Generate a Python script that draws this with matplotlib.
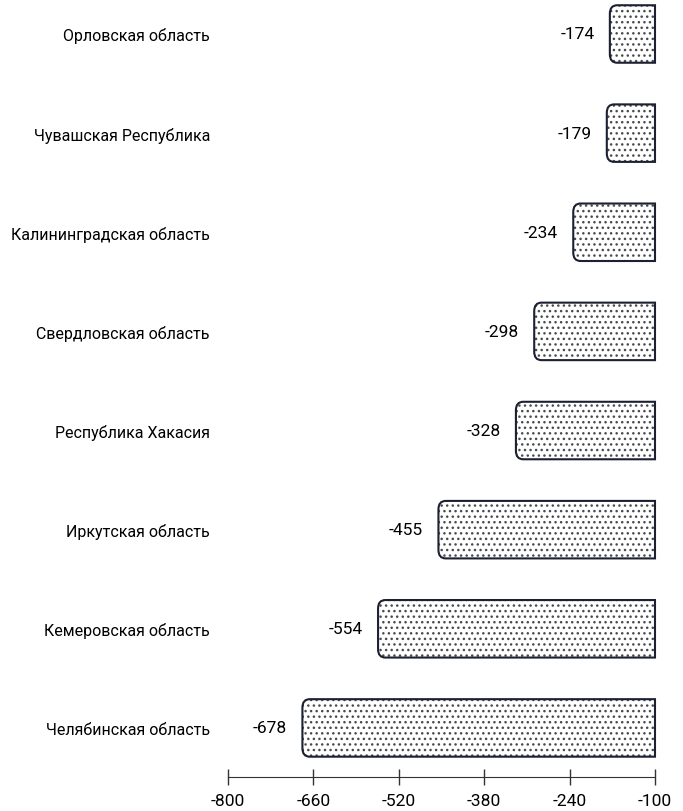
import matplotlib.pyplot as plt
from matplotlib.path import Path
from matplotlib.patches import PathPatch

regions = ["Челябинская область", "Кемеровская область", "Иркутская область",
           "Республика Хакасия", "Свердловская область", "Калининградская область",
           "Чувашская Республика", "Орловская область"]
values = [-678, -554, -455, -328, -298, -234, -179, -174]
xticks = [-800, -660, -520, -380, -240, -100]

plt.rcParams['font.family'] = ['Roboto', 'DejaVu Sans']

fig = plt.figure(figsize=(6.83, 8.12), dpi=100)
ax = fig.add_axes([228/683, 1-778/812, 427/683, 778/812])

base = -100
h = 0.58
rx, ry = 12, 0.085
edge = '#1c2030'

bars = ax.barh(range(len(values)), [v - base for v in values], left=base,
               height=h, color='none', edgecolor='none')
for b, v in zip(bars, values):
    x0 = b.get_x()
    x1 = x0 + b.get_width()
    xl, xr = min(x0, x1), max(x0, x1)
    yb = b.get_y()
    yt = yb + b.get_height()
    verts = [(xr, yb), (xl + rx, yb), (xl, yb), (xl, yb + ry), (xl, yt - ry),
             (xl, yt), (xl + rx, yt), (xr, yt), (xr, yb)]
    codes = [Path.MOVETO, Path.LINETO, Path.CURVE3, Path.CURVE3, Path.LINETO,
             Path.CURVE3, Path.CURVE3, Path.LINETO, Path.CLOSEPOLY]
    path = Path(verts, codes)
    # dots first (grey), then the dark outline on top
    ax.add_patch(PathPatch(path, facecolor='white', edgecolor='#4a4a4a',
                           linewidth=0, hatch='...'))
    ax.add_patch(PathPatch(path, facecolor='none', edgecolor=edge,
                           linewidth=1.5, clip_on=False))
    ax.annotate(str(v), (xl, yb + b.get_height()/2), xytext=(-11, 0),
                textcoords='offset points', ha='right', va='center', fontsize=12.5)

ax.set_xlim(-800, -100)
ax.set_ylim(-0.495, len(values) - 1 + 0.353)
ax.set_yticks(range(len(values)))
ax.set_yticklabels(regions, fontsize=11.5)
ax.tick_params(axis='y', length=0, pad=13)
ax.set_xticks(xticks)
ax.set_xticklabels([str(t) for t in xticks], fontsize=12.5)
ax.tick_params(axis='x', direction='inout', length=11, width=1, color='#333333', pad=6)
for s in ['top', 'right', 'left']:
    ax.spines[s].set_visible(False)
ax.spines['bottom'].set_color('#333333')
ax.patch.set_alpha(0)

fig.savefig('out.png', dpi=100)
